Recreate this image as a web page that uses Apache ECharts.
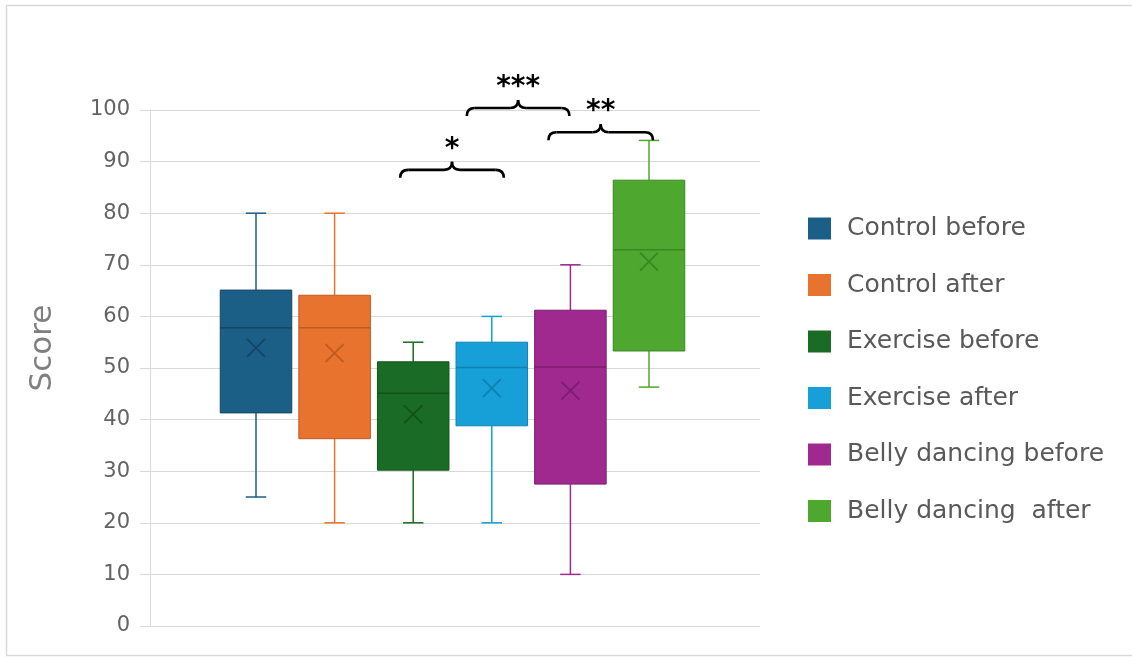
<!DOCTYPE html>
<html>
<head>
<meta charset="utf-8">
<script src="https://cdn.jsdelivr.net/npm/echarts@6/dist/echarts.min.js"></script>
<style>
html,body{margin:0;padding:0;background:#fff;}
#chart{width:1132px;height:657px;}
</style>
</head>
<body>
<div id="chart"></div>
<script>
// ---- data ----
const groups = ['Control before', 'Control after', 'Exercise before', 'Exercise after', 'Belly dancing before', 'Belly dancing  after'];
const mins    = [25,   20,   20,   20,   10,   46.3];
const q1s     = [41.3, 36.3, 30.2, 38.8, 27.5, 53.3];
const medians = [57.8, 57.8, 45.1, 50.1, 50.2, 72.9];
const q3s     = [65.1, 64.1, 51.2, 55.0, 61.2, 86.4];
const maxs    = [80,   80,   55,   60,   70,   94.1];
const means   = [53.9, 52.9, 41.0, 46.1, 45.6, 70.6];
const yTicks  = [0, 10, 20, 30, 40, 50, 60, 70, 80, 90, 100];
// significance brackets: from group index, to group index, level (score), label
const bracketFrom   = [2, 3, 4];
const bracketTo     = [3, 4, 5];
const bracketLevel  = [88.4, 100.4, 95.7];
const bracketLabels = ['*', '***', '**'];

// ---- styles ----
const fills = ['#1b5e86', '#e8732f', '#1a6b26', '#17a0d8', '#a0298f', '#4ea72e'];
const darks = ['#134766', '#bf5a20', '#11521a', '#1180ae', '#7c1d6f', '#3a8721'];
const bracketPadL = [13, 25, 22];
const bracketPadR = [12, -1, 4];
const FONT = 'DejaVu Sans, Liberation Sans, Arial, sans-serif';

function renderBox(params, api) {
  const si = params.seriesIndex;
  const x = api.value(0);
  const pMin = api.coord([x, api.value(1)]);
  const pQ1 = api.coord([x, api.value(2)]);
  const pMed = api.coord([x, api.value(3)]);
  const pQ3 = api.coord([x, api.value(4)]);
  const pMax = api.coord([x, api.value(5)]);
  const pMean = api.coord([x, api.value(6)]);
  const band = api.size([1, 0])[0];
  const cx = pMed[0];
  const hw = band * 0.455;
  const cap = band * 0.13;
  const xs = 9;
  const fill = fills[si], dark = darks[si];
  const lineStyle = { stroke: fill, lineWidth: 1.5 };
  return {
    type: 'group',
    children: [
      { type: 'line', shape: { x1: cx, y1: pQ3[1], x2: cx, y2: pMax[1] }, style: lineStyle },
      { type: 'line', shape: { x1: cx, y1: pQ1[1], x2: cx, y2: pMin[1] }, style: lineStyle },
      { type: 'line', shape: { x1: cx - cap, y1: pMax[1], x2: cx + cap, y2: pMax[1] }, style: lineStyle },
      { type: 'line', shape: { x1: cx - cap, y1: pMin[1], x2: cx + cap, y2: pMin[1] }, style: lineStyle },
      { type: 'rect', shape: { x: cx - hw, y: pQ3[1], width: hw * 2, height: pQ1[1] - pQ3[1] },
        style: { fill: fill, stroke: dark, lineWidth: 1 } },
      { type: 'line', shape: { x1: cx - hw, y1: pMed[1], x2: cx + hw, y2: pMed[1] }, style: { stroke: dark, lineWidth: 1.5 } },
      { type: 'line', shape: { x1: cx - xs, y1: pMean[1] - xs, x2: cx + xs, y2: pMean[1] + xs }, style: { stroke: dark, lineWidth: 1.8 } },
      { type: 'line', shape: { x1: cx - xs, y1: pMean[1] + xs, x2: cx + xs, y2: pMean[1] - xs }, style: { stroke: dark, lineWidth: 1.8 } }
    ]
  };
}

const series = groups.map((name, i) => ({
  name: name,
  type: 'custom',
  xAxisIndex: 1,
  yAxisIndex: 1,
  itemStyle: { color: fills[i] },
  renderItem: renderBox,
  encode: { x: 0, y: [1, 2, 3, 4, 5, 6] },
  data: [[i, mins[i], q1s[i], medians[i], q3s[i], maxs[i], means[i]]],
  z: 3
}));

const option = {
  backgroundColor: '#fff',
  animation: false,
  grid: [
    { left: 150, right: 372, top: 110, bottom: 31 },
    { left: 216.7, right: 443.7, top: 110, bottom: 31 }
  ],
  xAxis: [
    { type: 'category', gridIndex: 0, data: [''], axisLine: { show: false }, axisTick: { show: false }, axisLabel: { show: false } },
    { type: 'category', gridIndex: 1, data: groups, show: false }
  ],
  yAxis: [
    {
      type: 'value', gridIndex: 0, min: yTicks[0], max: yTicks[yTicks.length - 1], interval: 10,
      name: 'Score', nameLocation: 'middle', nameGap: 92,
      nameTextStyle: { fontFamily: FONT, fontSize: 31, color: '#7f7f7f', padding: [0, 0, 0, 40] },
      axisLine: { show: true, lineStyle: { color: '#d9d9d9', width: 1 } },
      axisTick: { show: true, length: 10, lineStyle: { color: '#d9d9d9' } },
      axisLabel: { fontFamily: FONT, fontSize: 21, color: '#636363', margin: 20, padding: [5, 0, 0, 0] },
      splitLine: { lineStyle: { color: '#d9d9d9', width: 1 } }
    },
    { type: 'value', gridIndex: 1, min: 0, max: 100, show: false }
  ],
  legend: {
    orient: 'vertical', left: 803, top: 211,
    icon: 'rect', itemWidth: 23, itemHeight: 22, itemGap: 31.5,
    data: groups,
    textStyle: { fontFamily: FONT, fontSize: 25, color: '#595959', padding: [0, 0, 0, 11] }
  },
  series: series
};

const chart = echarts.init(document.getElementById('chart'));
chart.setOption(option);

// annotations positioned through the axes
const graphics = [
  { type: 'rect', shape: { x: 6.5, y: 5.5, width: 1140, height: 650 }, style: { fill: 'none', stroke: '#d9d9d9', lineWidth: 1.5 }, silent: true, z: 0 }
];
const braceStyle = { fill: 'none', stroke: '#000', lineWidth: 2.6 };
function curve(xa, ya, cx, cy, xb, yb) {
  return { type: 'bezierCurve', shape: { x1: xa, y1: ya, cpx1: cx, cpy1: cy, x2: xb, y2: yb }, style: braceStyle, z: 10, silent: true };
}
function seg(xa, ya, xb, yb) {
  return { type: 'line', shape: { x1: xa, y1: ya, x2: xb, y2: yb }, style: braceStyle, z: 10, silent: true };
}
for (let k = 0; k < bracketLabels.length; k++) {
  const a = chart.convertToPixel({ xAxisIndex: 1, yAxisIndex: 1 }, [bracketFrom[k], bracketLevel[k]]);
  const b = chart.convertToPixel({ xAxisIndex: 1, yAxisIndex: 1 }, [bracketTo[k], bracketLevel[k]]);
  const x0 = a[0] - bracketPadL[k], x1 = b[0] + bracketPadR[k], y = a[1];
  const xc = (x0 + x1) / 2, c = 8;
  graphics.push(curve(x0, y + c, x0, y, x0 + c, y));
  graphics.push(seg(x0 + c, y, xc - c, y));
  graphics.push(curve(xc - c, y, xc, y, xc, y - c));
  graphics.push(curve(xc, y - c, xc, y, xc + c, y));
  graphics.push(seg(xc + c, y, x1 - c, y));
  graphics.push(curve(x1 - c, y, x1, y, x1, y + c));
  graphics.push({ type: 'text', silent: true, z: 10,
    style: { text: bracketLabels[k], x: xc, y: y - c + 2, align: 'center', verticalAlign: 'bottom', fontFamily: FONT, fontWeight: 'bold', fontSize: 28, fill: '#000' } });
}
chart.setOption({ graphic: graphics });
</script>
</body>
</html>
